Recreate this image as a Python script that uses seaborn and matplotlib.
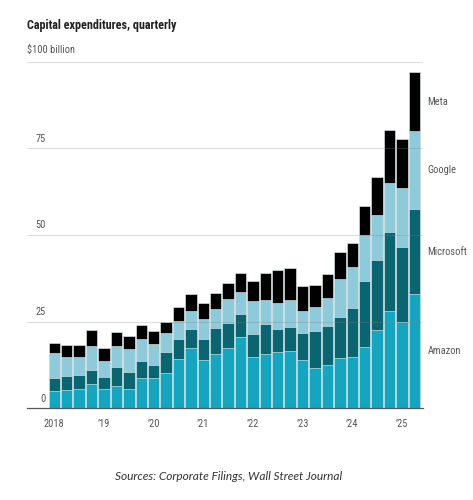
import numpy as np
import pandas as pd
import matplotlib
matplotlib.use("Agg")
import matplotlib.pyplot as plt
from matplotlib import font_manager
import seaborn as sns

# ---- data (billions of dollars, quarterly, 2018 Q1 .. 2025 Q2) ----
quarters = [f"{y} Q{q}" for y in range(2018, 2026) for q in range(1, 5)][:30]
amazon = [5.1, 5.3, 5.5, 7.1, 5.6, 6.5, 5.6, 8.6, 8.7, 10.3, 14.3, 17.3, 13.9, 15.7, 17.3,
          20.5, 14.9, 15.6, 16.3, 16.6, 13.9, 11.5, 12.5, 14.5, 14.8, 17.6, 22.7, 28.2, 24.8, 33.0]
microsoft = [3.5, 4.0, 4.2, 4.0, 3.4, 5.4, 4.8, 5.1, 3.9, 5.9, 5.6, 5.5, 6.0, 7.4, 7.4,
             6.8, 6.4, 8.7, 6.7, 7.0, 7.9, 10.7, 11.2, 11.7, 14.0, 19.1, 20.1, 22.8, 21.6, 24.4]
google = [7.3, 5.6, 5.2, 7.0, 4.6, 6.1, 6.7, 6.2, 6.0, 5.4, 5.4, 5.4, 6.0, 5.5, 6.8,
          6.2, 9.8, 7.0, 7.3, 7.6, 6.3, 6.9, 8.0, 11.0, 12.1, 13.2, 13.1, 14.1, 17.3, 22.6]
meta = [2.9, 3.4, 3.4, 4.5, 3.9, 3.9, 3.9, 4.2, 3.7, 3.4, 4.0, 4.9, 4.4, 4.6, 4.7,
        5.6, 5.5, 7.7, 9.6, 9.2, 7.2, 6.5, 7.0, 8.0, 6.8, 8.6, 10.8, 15.2, 13.9, 16.9]
companies = ["Amazon", "Microsoft", "Google", "Meta"]
colors = ["#16A5BF", "#0B6570", "#8ECAD9", "#000000"]
xtick_pos = [0, 4, 8, 12, 16, 20, 24, 28]
xtick_labels = ["2018", "\u201919", "\u201920", "\u201921", "\u201922", "\u201923", "\u201924", "\u201925"]
yticks = [0, 25, 50, 75]

df = pd.DataFrame({"quarter": quarters, "Amazon": amazon, "Microsoft": microsoft,
                   "Google": google, "Meta": meta})
cum = df[companies].cumsum(axis=1)

sns.set_style("white")

# ---- font selection: prefer a condensed sans ----
entries = font_manager.fontManager.ttflist
def has(name, stretch=None, style=None):
    for f in entries:
        if f.name != name:
            continue
        if stretch is not None and str(f.stretch) != stretch:
            continue
        if style is not None and f.style != style:
            continue
        return True
    return False

cond_family, cond_stretch = "Liberation Sans", "normal"
for nm, st in [("Liberation Sans Narrow", None), ("Roboto Condensed", None),
               ("Open Sans Condensed", None), ("Noto Sans Condensed", None),
               ("DejaVu Sans Condensed", None),
               ("Roboto", "condensed"), ("Noto Sans", "condensed"),
               ("Open Sans", "condensed"), ("Noto Sans", "semi-condensed"),
               ("Open Sans", "semi-condensed"), ("DejaVu Sans", "condensed"),
               ("DejaVu Sans", "semi-condensed")]:
    if has(nm, st):
        cond_family, cond_stretch = nm, (st or "normal")
        break

ital_family = "DejaVu Sans"
for nm in ["Lato", "Open Sans", "Noto Sans", "Roboto", "Liberation Sans"]:
    if has(nm, style="italic"):
        ital_family = nm
        break

plt.rcParams["font.family"] = [cond_family, "DejaVu Sans"]
plt.rcParams["font.stretch"] = cond_stretch

fig = plt.figure(figsize=(4.73, 5.0), dpi=100)
ax = fig.add_axes([0.0571, 0.1834, 0.8372, 0.6932])

# stacked bars: draw cumulative totals from the top layer down
for comp, col in zip(companies[::-1], colors[::-1]):
    sns.barplot(x=df["quarter"], y=cum[comp], order=quarters, color=col, saturation=1,
                width=0.92, edgecolor="#e8f4f6", linewidth=0.4, ax=ax, zorder=2)

ax.set_xlim(-2.2, 29.7)
ax.set_ylim(0, 100)
for s in ["left", "right", "top"]:
    ax.spines[s].set_visible(False)
ax.spines["bottom"].set_color("#555555")
ax.spines["bottom"].set_linewidth(0.9)
ax.spines["bottom"].set_zorder(4)
ax.set_xlabel("")
ax.set_ylabel("")
ax.set_yticks([])
ax.set_xticks(xtick_pos)
ax.set_xticklabels(xtick_labels)
ax.tick_params(axis="x", length=4, width=0.8, color="#555555", labelsize=7.5,
               labelcolor="#555555", pad=4)

for v in yticks[1:] + [100]:
    ax.axhline(v, color="#888888", alpha=0.28, lw=0.8, zorder=3)

ytr = ax.get_yaxis_transform()
for v in yticks:
    ax.text(0.048, v + 1.3, str(v), transform=ytr, ha="right", va="bottom",
            fontsize=7.5, color="#555555")
ax.text(0.0, 101.8, "\\$100 billion", transform=ytr, ha="left", va="bottom",
        fontsize=7.5, color="#555555")

last = cum.iloc[-1]
prev = 0.0
side_labels = []
for comp in companies:
    mid = (prev + last[comp]) / 2
    prev = last[comp]
    side_labels.append(ax.text(30.05, mid, comp, ha="left", va="center", fontsize=7.5,
                               color="#555555", clip_on=False))

title = fig.text(0.057, 0.95, "Capital expenditures, quarterly", ha="left", va="center",
                 fontsize=9.5, fontweight="bold", color="#222222")
caption = fig.text(0.484, 0.046, "Sources: Corporate Filings, Wall Street Journal",
                   ha="center", va="center", fontsize=7.5, fontstyle="italic",
                   color="#333333", family=[ital_family, "DejaVu Sans"])

# fit text widths to the reference layout
fig.canvas.draw()
r = fig.canvas.get_renderer()
def fit(t, target, lo, hi):
    w = t.get_window_extent(r).width
    t.set_fontsize(float(np.clip(t.get_fontsize() * target / w, lo, hi)))
fit(title, 150, 8.0, 10.0)
fit(caption, 228, 7.0, 9.0)
fig.canvas.draw()
ms = side_labels[1]
bb = ms.get_window_extent(r)
if bb.x1 > 471:
    scale = (471 - bb.x0) / bb.width
    for t in side_labels:
        t.set_fontsize(t.get_fontsize() * scale)

fig.savefig("out.png", dpi=100)
